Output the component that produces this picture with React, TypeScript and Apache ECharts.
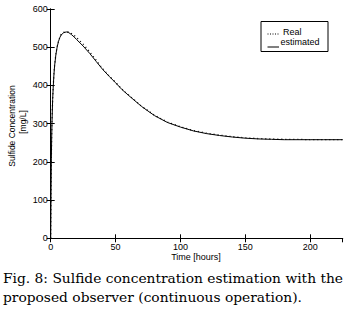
import React, { useEffect, useRef } from "react";
import * as echarts from "echarts";

const timeHours = [0, 0.25, 0.5, 0.75, 1, 1.5, 2, 2.5, 3, 4, 5, 6, 7, 8, 10, 12, 14, 16, 18, 20, 25, 30, 35, 40, 45, 50, 55, 60, 70, 80, 90, 100, 110, 120, 130, 140, 150, 160, 170, 180, 190, 200, 210, 225];
const realValues = [0, 120, 210, 265, 305, 365, 400, 430, 452, 482, 502, 516, 526, 533, 539, 541, 540, 536, 531, 525, 508, 488, 466, 444, 425, 408, 390, 375, 346, 322, 304, 292, 282, 275, 270, 266, 263, 261, 260, 259, 259, 258, 258, 258];
const estimatedValues = [0, 118, 208, 263, 303, 363, 399, 429, 451, 481, 501, 515, 525, 532, 538, 540, 538, 533, 527, 520, 503, 484, 463, 442, 424, 407, 389, 374, 345, 321, 303, 291, 281, 274, 269, 265, 262, 260, 259, 258, 258, 258, 258, 258];
const xTicks = [0, 50, 100, 150, 200];
const yTicks = [0, 100, 200, 300, 400, 500, 600];
const legendLabels = ["Real", "estimated"];
const xLabel = "Time [hours]";
const yLabelLines = ["Sulfide Concentration", "[mg/L]"];
const captionLines = [
  "Fig. 8: Sulfide concentration estimation with the",
  "proposed observer (continuous operation).",
];

const SANS = "'Liberation Sans', Arial, sans-serif";
const SERIF = "'DejaVu Serif', serif";

export default function App() {
  const ref = useRef<HTMLDivElement>(null);
  useEffect(() => {
    if (!ref.current) return;
    const chart = echarts.init(ref.current, null, { renderer: "svg" });
    const realData = timeHours.map((t, i) => [t, realValues[i]]);
    const estData = timeHours.map((t, i) => [t, estimatedValues[i]]);
    const axisLine = { show: true, lineStyle: { color: "#000", width: 1 } };
    const tickFmt = (list: number[]) => (v: number) => (list.includes(v) ? String(v) : "");
    chart.setOption({
      animation: false,
      backgroundColor: "#fff",
      grid: { left: 50.7, right: 9.3, top: 9, bottom: 73.7, containLabel: false },
      xAxis: [
        {
          type: "value",
          min: 0,
          max: 225,
          interval: 50,
          axisLine,
          axisTick: { show: true, inside: true, length: 4, lineStyle: { color: "#000" } },
          axisLabel: { color: "#000", fontSize: 9, fontFamily: SANS, margin: 4, formatter: tickFmt(xTicks), showMaxLabel: false },
          splitLine: { show: false },
        },
        {
          type: "value",
          position: "top",
          min: 0,
          max: 225,
          interval: 50,
          axisLine,
          axisTick: { show: true, inside: true, length: 4, lineStyle: { color: "#000" } },
          axisLabel: { show: false },
          splitLine: { show: false },
        },
      ],
      yAxis: [
        {
          type: "value",
          min: 0,
          max: 600,
          interval: 100,
          axisLine,
          axisTick: { show: true, inside: true, length: 4, lineStyle: { color: "#000" } },
          axisLabel: { color: "#000", fontSize: 9, fontFamily: SANS, margin: 3, formatter: tickFmt(yTicks) },
          splitLine: { show: false },
        },
        {
          type: "value",
          position: "right",
          min: 0,
          max: 600,
          interval: 100,
          axisLine,
          axisTick: { show: true, inside: true, length: 4, lineStyle: { color: "#000" } },
          axisLabel: { show: false },
          splitLine: { show: false },
        },
      ],
      series: [
        {
          name: legendLabels[1],
          type: "line",
          data: estData,
          showSymbol: false,
          symbol: "none",
          lineStyle: { color: "#000", width: 1, type: "solid" },
          z: 2,
        },
        {
          name: legendLabels[0],
          type: "line",
          data: realData,
          showSymbol: false,
          symbol: "none",
          lineStyle: { color: "#000", width: 1.3, type: [1, 3] },
          z: 3,
        },
      ],
      graphic: [
        {
          type: "text",
          x: 12,
          y: 126,
          rotation: Math.PI / 2,
          style: { text: yLabelLines[0], fontSize: 8.5, fontFamily: SANS, fill: "#000", align: "center", verticalAlign: "middle" },
        },
        {
          type: "text",
          x: 22.5,
          y: 122,
          rotation: Math.PI / 2,
          style: { text: yLabelLines[1], fontSize: 8.5, fontFamily: SANS, fill: "#000", align: "center", verticalAlign: "middle" },
        },
        {
          type: "text",
          x: 196,
          y: 257,
          style: { text: xLabel, fontSize: 9, fontFamily: SANS, fill: "#000", align: "center", verticalAlign: "middle" },
        },
        {
          type: "rect",
          shape: { x: 261, y: 21.5, width: 67, height: 30 },
          style: { fill: "#fff", stroke: "#000", lineWidth: 1 },
          z: 10,
        },
        {
          type: "line",
          shape: { x1: 267.5, y1: 34, x2: 279, y2: 34 },
          style: { stroke: "#000", lineWidth: 1, lineDash: [1, 1.5] },
          z: 11,
        },
        {
          type: "line",
          shape: { x1: 267.5, y1: 47, x2: 279, y2: 47 },
          style: { stroke: "#000", lineWidth: 1 },
          z: 11,
        },
        {
          type: "text",
          x: 283,
          y: 32,
          style: { text: legendLabels[0], fontSize: 9, fontFamily: SANS, fill: "#000", align: "left", verticalAlign: "middle" },
          z: 11,
        },
        {
          type: "text",
          x: 280.5,
          y: 42,
          style: { text: legendLabels[1], fontSize: 9, fontFamily: SANS, fill: "#000", align: "left", verticalAlign: "middle" },
          z: 11,
        },
        {
          type: "text",
          x: 3,
          y: 278,
          style: { text: captionLines[0], fontSize: 13.8, fontFamily: SERIF, fill: "#000", align: "left", verticalAlign: "middle" },
        },
        {
          type: "text",
          x: 3,
          y: 297,
          style: { text: captionLines[1], fontSize: 13.8, fontFamily: SERIF, fill: "#000", align: "left", verticalAlign: "middle" },
        },
      ],
    });
    return () => chart.dispose();
  }, []);
  return (
    <div
      ref={ref}
      style={{ position: "fixed", left: 0, top: 0, width: 352, height: 312, background: "#fff" }}
    />
  );
}
